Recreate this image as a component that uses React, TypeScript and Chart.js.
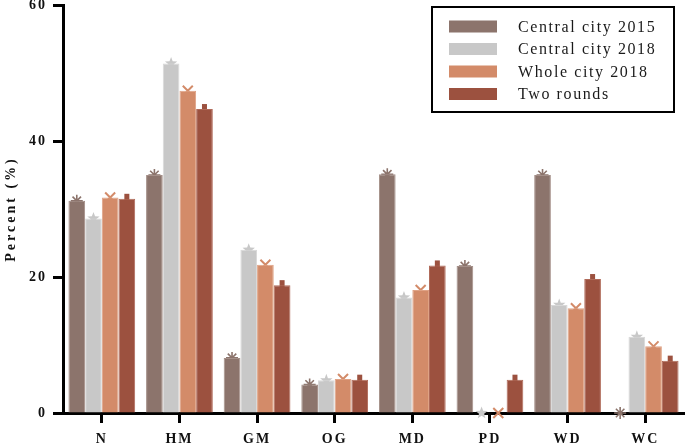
import { useEffect, useRef } from 'react';
import { Chart, registerables } from 'chart.js';

Chart.register(...registerables);

const CATEGORIES = ['N', 'HM', 'GM', 'OG', 'MD', 'PD', 'WD', 'WC'];
const SERIES_LABELS = ['Central city 2015', 'Central city 2018', 'Whole city 2018', 'Two rounds'];
const CENTRAL_2015 = [31.2, 35.0, 8.1, 4.2, 35.1, 21.6, 35.0, 0];
const CENTRAL_2018 = [28.6, 51.4, 24.0, 4.8, 17.0, 0, 15.9, 11.2];
const WHOLE_2018 = [31.7, 47.4, 21.8, 5.0, 18.1, 0, 15.4, 9.8];
const TWO_ROUNDS = [31.5, 44.7, 18.8, 4.9, 21.7, 4.9, 19.7, 7.7];
const Y_MIN = 0;
const Y_MAX = 60;
const Y_STEP = 20;
const Y_TITLE = 'Percent (%)';

const COLORS = ['#8c746c', '#c8c8c8', '#d38b69', '#9c513f'];
const EDGE_COLORS = ['#a48f88', '#d8d8d8', '#dfa285', '#b06b5a'];
const MARKERS = ['asterisk', 'star', 'cross', 'bar'];
const FONT_FAMILY = "'Liberation Serif', 'Times New Roman', serif";

function drawMarker(ctx: CanvasRenderingContext2D, kind: string, x: number, y: number, color: string) {
  ctx.save();
  ctx.strokeStyle = color;
  ctx.fillStyle = color;
  if (kind === 'asterisk') {
    const r = 6;
    ctx.lineWidth = 1.6;
    ctx.beginPath();
    for (let k = 0; k < 4; k++) {
      const a = (k * Math.PI) / 4;
      ctx.moveTo(x - r * Math.cos(a), y - r * Math.sin(a));
      ctx.lineTo(x + r * Math.cos(a), y + r * Math.sin(a));
    }
    ctx.stroke();
  } else if (kind === 'star') {
    const ro = 6.5;
    const ri = 2.7;
    ctx.beginPath();
    for (let k = 0; k < 10; k++) {
      const a = -Math.PI / 2 + (k * Math.PI) / 5;
      const r = k % 2 === 0 ? ro : ri;
      const px = x + r * Math.cos(a);
      const py = y + r * Math.sin(a);
      if (k === 0) ctx.moveTo(px, py);
      else ctx.lineTo(px, py);
    }
    ctx.closePath();
    ctx.fill();
  } else if (kind === 'cross') {
    const h = 5;
    ctx.lineWidth = 2;
    ctx.beginPath();
    ctx.moveTo(x - h, y - h);
    ctx.lineTo(x + h, y + h);
    ctx.moveTo(x - h, y + h);
    ctx.lineTo(x + h, y - h);
    ctx.stroke();
  } else {
    ctx.fillRect(x - 2.5, y - 5, 5, 10);
  }
  ctx.restore();
}

const letterSpacingPlugin = {
  id: 'letterSpacing',
  beforeDraw(chart: any) {
    (chart.ctx as any).letterSpacing = '2px';
  },
};

const markerPlugin = {
  id: 'markers',
  beforeDatasetsDraw(chart: any) {
    const ctx = chart.ctx as CanvasRenderingContext2D;
    chart.data.datasets.forEach((_ds: any, i: number) => {
      const meta = chart.getDatasetMeta(i);
      meta.data.forEach((el: any) => {
        drawMarker(ctx, MARKERS[i], el.x, el.y, COLORS[i]);
      });
    });
  },
};

const customLegendPlugin = {
  id: 'customLegend',
  afterDraw(chart: any) {
    const ctx = chart.ctx as CanvasRenderingContext2D;
    ctx.save();
    (ctx as any).letterSpacing = '1.6px';
    ctx.lineWidth = 2;
    ctx.strokeStyle = '#000';
    ctx.strokeRect(432, 7, 242, 105);
    ctx.font = `16px ${FONT_FAMILY}`;
    ctx.textAlign = 'left';
    ctx.textBaseline = 'middle';
    chart.data.datasets.forEach((ds: any, i: number) => {
      const cy = 26.5 + i * 22.5;
      ctx.fillStyle = ds.backgroundColor;
      ctx.fillRect(449, cy - 6, 48, 12);
      ctx.fillStyle = '#1a1a1a';
      ctx.fillText(ds.label, 518, cy + 1);
    });
    ctx.restore();
  },
};

const yTitlePlugin = {
  id: 'yTitle',
  afterDraw(chart: any) {
    const ctx = chart.ctx as CanvasRenderingContext2D;
    const area = chart.chartArea;
    ctx.save();
    (ctx as any).letterSpacing = '3px';
    ctx.translate(11, (area.top + area.bottom) / 2);
    ctx.rotate(-Math.PI / 2);
    ctx.font = `bold 14px ${FONT_FAMILY}`;
    ctx.fillStyle = '#111';
    ctx.textAlign = 'center';
    ctx.textBaseline = 'middle';
    ctx.fillText(Y_TITLE, 0, 0);
    ctx.restore();
  },
};

export default function App() {
  const canvasRef = useRef<HTMLCanvasElement | null>(null);

  useEffect(() => {
    if (!canvasRef.current) return;
    Chart.defaults.font.family = FONT_FAMILY;
    const seriesValues = [CENTRAL_2015, CENTRAL_2018, WHOLE_2018, TWO_ROUNDS];
    const chart = new Chart(canvasRef.current, {
      type: 'bar',
      data: {
        labels: CATEGORIES,
        datasets: seriesValues.map((vals, i) => ({
          label: SERIES_LABELS[i],
          data: vals,
          backgroundColor: COLORS[i],
          borderColor: EDGE_COLORS[i],
          borderWidth: 1,
          categoryPercentage: 0.86,
          barPercentage: 1,
        })),
      },
      options: {
        responsive: false,
        animation: false,
        devicePixelRatio: 1,
        layout: { padding: { top: 5, right: 1, left: 0, bottom: 0 } },
        plugins: {
          legend: { display: false },
          tooltip: { enabled: false },
        },
        scales: {
          x: {
            offset: true,
            afterFit(scale: any) {
              scale.height = 33;
              scale.paddingLeft = 0;
              scale.paddingRight = 0;
            },
            border: { display: true, color: '#000', width: 3 },
            grid: {
              offset: false,
              drawOnChartArea: false,
              drawTicks: true,
              tickLength: 10,
              tickWidth: 3,
              tickColor: '#000',
            },
            ticks: {
              color: '#111',
              padding: 8,
              font: { size: 14, weight: 'bold' },
              maxRotation: 0,
              autoSkip: false,
            },
          },
          y: {
            min: Y_MIN,
            max: Y_MAX,
            afterFit(scale: any) {
              scale.width = 63;
              scale.paddingTop = 0;
              scale.paddingBottom = 0;
            },
            border: { display: true, color: '#000', width: 3 },
            grid: {
              drawOnChartArea: false,
              drawTicks: true,
              tickLength: 10,
              tickWidth: 3,
              tickColor: '#000',
            },
            ticks: {
              stepSize: Y_STEP,
              color: '#111',
              padding: 6,
              font: { size: 14, weight: 'bold' },
            },
          },
        },
      } as any,
      plugins: [letterSpacingPlugin, markerPlugin, customLegendPlugin, yTitlePlugin],
    });
    return () => chart.destroy();
  }, []);

  return (
    <div style={{ position: 'fixed', left: 0, top: 0, width: 685, height: 446, background: '#fff' }}>
      <canvas ref={canvasRef} width={685} height={446} style={{ display: 'block', width: 685, height: 446 }} />
    </div>
  );
}
